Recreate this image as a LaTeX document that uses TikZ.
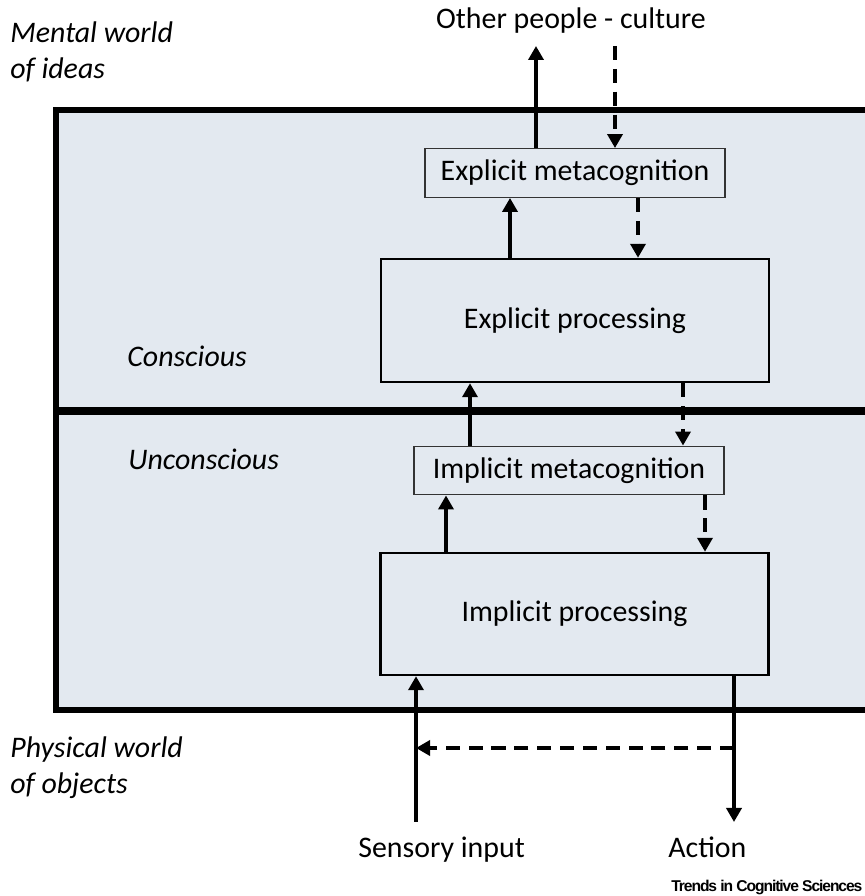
\documentclass[tikz,border=0pt]{standalone}
\usepackage{fontspec}
\setmainfont{Carlito}
\newfontfamily\journalfont[LetterSpace=-7]{Liberation Sans}
\usetikzlibrary{arrows.meta}
\definecolor{panelblue}{RGB}{227,233,240}

\begin{document}
\begin{tikzpicture}[
  font=\fontsize{17}{20.5}\selectfont,
  every node/.style={inner sep=0pt},
  metabox/.style={draw=black!80, line width=0.8pt, fill=panelblue, minimum height=0.97cm},
  procbox/.style={draw, line width=1.4pt, fill=panelblue, minimum width=7.76cm},
  flow/.style={line width=2.3pt, -{Triangle[width=0.3cm,length=0.28cm]}},
  feedback/.style={flow, dash pattern=on 8pt off 5pt},
  sidelabel/.style={font=\fontsize{17}{20.5}\selectfont\itshape, align=left}
]
\useasboundingbox (0,0) rectangle (17.28,17.92);

% the mind, split in two
\draw[line width=3.4pt, fill=panelblue] (1.12,3.72) rectangle (17.7,15.72);
\draw[line width=4pt] (1.12,9.70) -- (17.7,9.70);

\path
(11.5,14.46) node [metabox, minimum width=6cm] (expmeta) {Explicit metacognition}
(11.5,11.51) node [procbox, minimum height=2.46cm] (expproc) {Explicit processing}
(11.38,8.51) node [metabox, minimum width=6.2cm] (impmeta) {Implicit metacognition}
(11.49,5.64) node [procbox, minimum height=2.44cm] (impproc) {Implicit processing};

% labels round the box
\path
(0.2,17.5) node [sidelabel, anchor=north west] (mental) {Mental world\\of ideas}
(0.2,3.2) node [sidelabel, anchor=north west] (physical) {Physical world\\of objects}
(2.54,10.58) node [sidelabel, anchor=base west] (conscious) {Conscious}
(2.56,8.52) node [sidelabel, anchor=base west] (unconscious) {Unconscious}
(11.42,17.34) node [anchor=base] (others) {Other people - culture}
(7.16,0.78) node [anchor=base west] (sensory) {Sensory input}
(13.36,0.78) node [anchor=base west] (action) {Action}
(13.42,0.08) node [anchor=base west, font=\journalfont\bfseries\fontsize{8.9}{11}\selectfont] (journal) {Trends in Cognitive Sciences};

% to and from other people
\coordinate (toothers) at (10.72,17.0);
\coordinate (fromothers) at (12.3,17.0);
\draw[flow] (toothers |- expmeta.north) -- (toothers);
\draw[feedback] (fromothers) -- (fromothers |- expmeta.north);

% up and down between the levels
\coordinate (upa) at (10.2,0);
\coordinate (downa) at (12.76,0);
\coordinate (upb) at (9.4,0);
\coordinate (downb) at (13.66,0);
\coordinate (upc) at (8.92,0);
\coordinate (downc) at (14.1,0);
\draw[flow] (upa |- expproc.north) -- (upa |- expmeta.south);
\draw[feedback] (downa |- expmeta.south) -- (downa |- expproc.north);
\draw[flow] (upb |- impmeta.north) -- (upb |- expproc.south);
\draw[feedback] (downb |- expproc.south) -- (downb |- impmeta.north);
\draw[flow] (upc |- impproc.north) -- (upc |- impmeta.south);
\draw[feedback] (downc |- impmeta.south) -- (downc |- impproc.north);

% physical world
\coordinate (sense) at (8.32,1.48);
\coordinate (act) at (14.68,1.48);
\coordinate (loop) at (0,2.96);
\draw[flow] (sense) -- (sense |- impproc.south);
\draw[flow] (act |- impproc.south) -- (act);
\draw[feedback] (act |- loop) -- (sense |- loop);

\end{tikzpicture}
\end{document}
